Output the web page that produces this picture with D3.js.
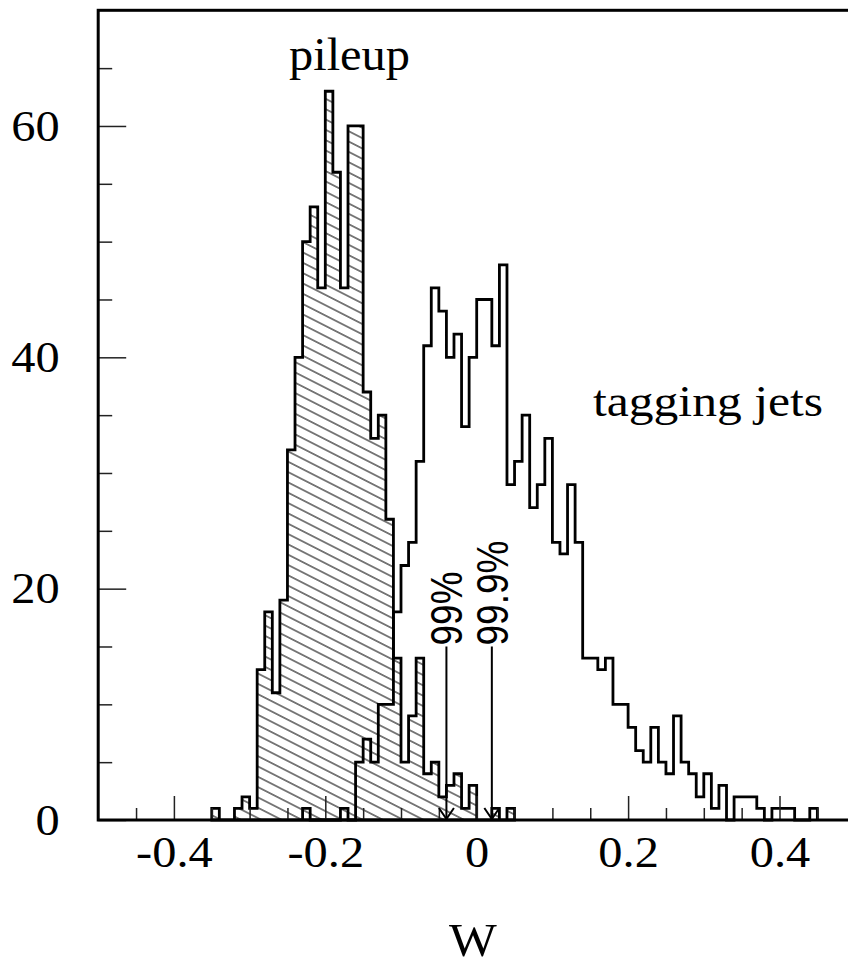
<!DOCTYPE html>
<html>
<head>
<meta charset="utf-8">
<script src="https://cdn.jsdelivr.net/npm/d3@7"></script>
<style>
body { margin: 0; background: #fff; }
svg { display: block; }
</style>
</head>
<body>
<div id="chart"></div>
<script>
// histogram binning (bins of 0.01 in w)
var binWidth = 0.01;

// pileup jets (hatched), first bin starts at w = -0.35
var pileupFirstBin = -0.35;
var pileupCounts = [1, 0, 0, 1, 2, 1, 13, 18, 11, 19,
                    32, 40, 50, 53, 46, 63, 56, 46, 60, 60,
                    37, 33, 35, 26, 14, 5, 9, 14, 4, 5,
                    2, 3, 4, 1, 3, 0, 0, 1, 0, 1];

// tagging jets (open), first bin starts at w = -0.23
var taggingFirstBin = -0.23;
var taggingCounts = [1, 0, 0, 0, 0, 1, 0, 5, 7, 5,
                     10, 10, 18, 22, 24, 31, 41, 46, 44, 40,
                     42, 34, 40, 45, 45, 41, 48, 29, 31, 35,
                     27, 29, 33, 24, 23, 29, 24, 14, 14, 13,
                     14, 10, 10, 8, 6, 5, 8, 5, 4, 9,
                     5, 4, 2, 4, 1, 3, 0, 2, 2, 2,
                     1, 0, 1, 1, 1, 0, 0, 1];

// efficiency cuts
var cutValues = [-0.04, 0.02];
var cutLabels = ["99%", "99.9%"];
var cutLabelLength = [74, 105];
var cutTop = 15;

var xMajorTicks = [-0.4, -0.2, 0, 0.2, 0.4];
var xTickLabels = ["-0.4", "-0.2", "0", "0.2", "0.4"];
var xMinorTicks = [-0.45, -0.35, -0.3, -0.25, -0.15, -0.1, -0.05, 0.05, 0.1, 0.15, 0.25, 0.3, 0.35, 0.45];
var yMajorTicks = [0, 20, 40, 60];
var yMinorTicks = [5, 10, 15, 25, 30, 35, 45, 50, 55, 65];

var serif = '"Liberation Serif", "Times New Roman", serif';
var sans = '"Liberation Sans", Arial, sans-serif';

var W = 848, H = 967;

var svg = d3.select("#chart")
  .append("svg")
  .attr("width", W)
  .attr("height", H);

var x = d3.scaleLinear().domain([-0.5, 0.5]).range([98.2, 855.2]);
var y = d3.scaleLinear().domain([0, 70]).range([820, 10.3]);

// hatch pattern for pileup
var defs = svg.append("defs");
var pat = defs.append("pattern")
  .attr("id", "hatch")
  .attr("patternUnits", "userSpaceOnUse")
  .attr("width", 20)
  .attr("height", 9.2)
  .attr("patternTransform", "rotate(27)");
pat.append("rect").attr("width", 20).attr("height", 9.2).attr("fill", "#fff");
pat.append("line")
  .attr("x1", 0).attr("y1", 4.6).attr("x2", 20).attr("y2", 4.6)
  .attr("stroke", "#000").attr("stroke-width", 1);

// turn bin counts into step outline points
function stepPoints(first, counts) {
  var pts = [[first, 0]];
  counts.forEach(function(c, k) {
    var lo = first + k * binWidth;
    pts.push([lo, c]);
    pts.push([lo + binWidth, c]);
  });
  pts.push([first + counts.length * binWidth, 0]);
  return pts;
}

var line = d3.line()
  .x(function(d) { return x(d[0]); })
  .y(function(d) { return y(d[1]); });

// pileup (hatched)
svg.append("path")
  .datum(stepPoints(pileupFirstBin, pileupCounts))
  .attr("d", function(d) { return line(d) + "Z"; })
  .attr("fill", "url(#hatch)")
  .attr("stroke", "#000")
  .attr("stroke-width", 2.8)
  .attr("stroke-linejoin", "miter");

// tagging jets (open)
svg.append("path")
  .datum(stepPoints(taggingFirstBin, taggingCounts))
  .attr("d", line)
  .attr("fill", "none")
  .attr("stroke", "#000")
  .attr("stroke-width", 2.8)
  .attr("stroke-linejoin", "miter");

// axes: ticks point inside the frame
svg.append("g")
  .attr("transform", "translate(0," + y(0) + ")")
  .call(d3.axisBottom(x).tickValues(xMinorTicks).tickSize(-12).tickFormat(""))
  .call(function(g) { g.select(".domain").remove(); });

var xAxis = svg.append("g")
  .attr("transform", "translate(0," + y(0) + ")")
  .call(d3.axisBottom(x).tickValues(xMajorTicks).tickSize(-24).tickPadding(16)
    .tickFormat(function(d, i) { return xTickLabels[i]; }));
xAxis.select(".domain").remove();
xAxis.selectAll("text")
  .style("font-family", serif)
  .style("font-size", "44px")
  .attr("transform", "scale(1.1,1)");

svg.append("g")
  .attr("transform", "translate(" + x(-0.5) + ",0)")
  .call(d3.axisLeft(y).tickValues(yMinorTicks).tickSize(-14).tickFormat(""))
  .call(function(g) { g.select(".domain").remove(); });

var yAxis = svg.append("g")
  .attr("transform", "translate(" + x(-0.5) + ",0)")
  .call(d3.axisLeft(y).tickValues(yMajorTicks).tickSize(-28).tickPadding(35));
yAxis.select(".domain").remove();
yAxis.selectAll("text")
  .style("font-family", serif)
  .style("font-size", "44px")
  .attr("transform", "scale(1.1,1)");

svg.selectAll(".tick line")
  .attr("stroke", "#222")
  .attr("stroke-width", 1.5);

// frame
svg.append("rect")
  .attr("x", x(-0.5))
  .attr("y", y(70))
  .attr("width", x(0.5) - x(-0.5))
  .attr("height", y(0) - y(70))
  .attr("fill", "none")
  .attr("stroke", "#000")
  .attr("stroke-width", 3);

// cut lines with arrows and labels
cutValues.forEach(function(c, i) {
  var cx = x(c);
  svg.append("line")
    .attr("x1", cx).attr("x2", cx)
    .attr("y1", y(cutTop)).attr("y2", y(0) - 1)
    .attr("stroke", "#000").attr("stroke-width", 2);
  svg.append("path")
    .attr("d", "M" + (cx - 7.5) + "," + (y(0) - 12) + "L" + cx + "," + (y(0) - 1) + "L" + (cx + 7.5) + "," + (y(0) - 12))
    .attr("fill", "none").attr("stroke", "#000").attr("stroke-width", 2);
  svg.append("text")
    .attr("transform", "translate(" + (cx + 16) + "," + (y(cutTop) - 1) + ") rotate(-90)")
    .style("font-family", sans)
    .style("font-size", "44px")
    .attr("textLength", cutLabelLength[i])
    .attr("lengthAdjust", "spacingAndGlyphs")
    .text(cutLabels[i]);
});

// labels
svg.append("text")
  .attr("x", 289).attr("y", 70)
  .style("font-family", serif)
  .style("font-size", "46px")
  .attr("textLength", 121)
  .attr("lengthAdjust", "spacingAndGlyphs")
  .text("pileup");

svg.append("text")
  .attr("x", 593).attr("y", 416)
  .style("font-family", serif)
  .style("font-size", "44px")
  .attr("textLength", 230)
  .attr("lengthAdjust", "spacingAndGlyphs")
  .text("tagging jets");

svg.append("text")
  .attr("x", 473).attr("y", 956)
  .attr("text-anchor", "middle")
  .style("font-family", serif)
  .style("font-size", "46px")
  .attr("transform", "translate(473,0) scale(1.1,1) translate(-473,0)")
  .text("W");
</script>
</body>
</html>
